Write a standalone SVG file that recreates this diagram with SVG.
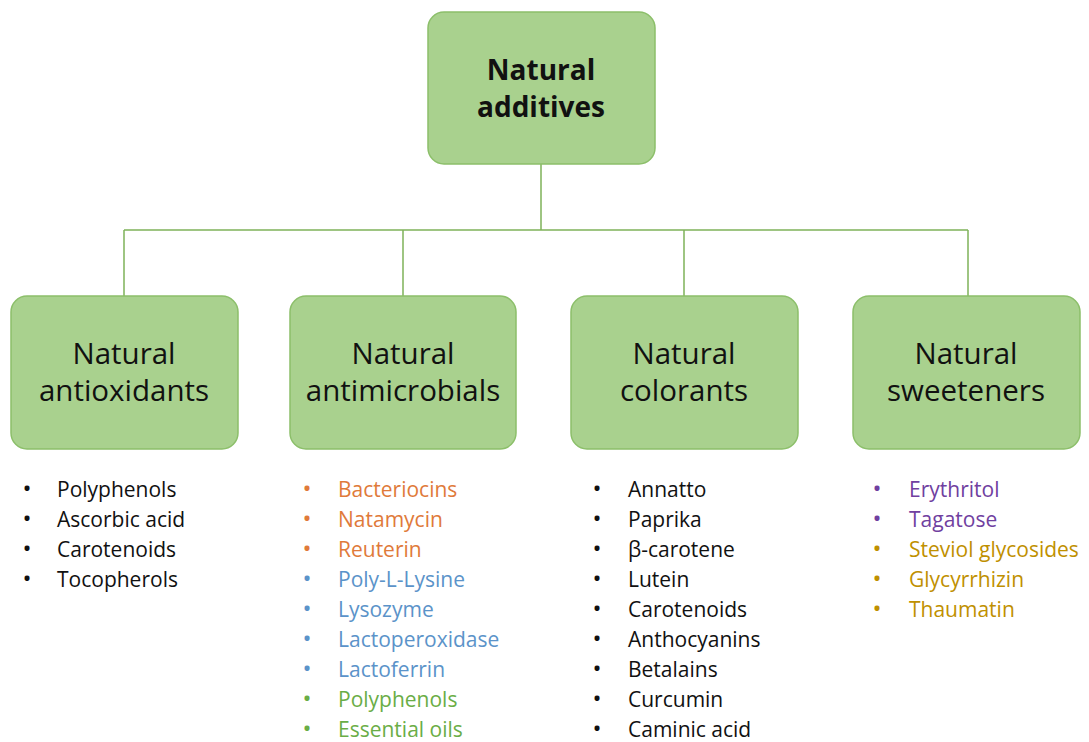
<svg xmlns="http://www.w3.org/2000/svg" width="1089" height="742" viewBox="0 0 1089 742">
<style>
.box{fill:#a9d18e;stroke:#8cbf6a;stroke-width:1.5}
.lnk{stroke:#7fb35a;stroke-width:1.5;fill:none}
.t{font-family:"Open Sans","Liberation Sans",sans-serif;fill:#111}
.h{font-size:29.5px;text-anchor:middle}
.hb{font-size:28px;text-anchor:middle;font-weight:bold}
.li{font-size:21px}
.bu{font-size:24px;text-anchor:middle}
.k{fill:#111}.o{fill:#e07a3a}.b{fill:#5b93c9}.g{fill:#6aad46}.p{fill:#7040a0}.y{fill:#bf9000}
</style>
<rect width="1089" height="742" fill="#fff"/>
<g id="connectors">
<path class="lnk" d="M541 164V230M124 230H968M124 230V296M403 230V296M684 230V296M968 230V296"/>
</g>
<g id="n-root"><rect class="box" x="428" y="12" width="227" height="152" rx="16"/>
<text class="t hb" x="541" y="80">Natural</text><text class="t hb" x="541" y="117">additives</text></g>
<g id="n-antiox"><rect class="box" x="11" y="296" width="227" height="153" rx="16"/>
<text class="t h" x="124" y="364">Natural</text><text class="t h" x="124" y="401">antioxidants</text></g>
<g id="n-antimic"><rect class="box" x="290" y="296" width="226" height="153" rx="16"/>
<text class="t h" x="403" y="364">Natural</text><text class="t h" x="403" y="401">antimicrobials</text></g>
<g id="n-color"><rect class="box" x="571" y="296" width="227" height="153" rx="16"/>
<text class="t h" x="684" y="364">Natural</text><text class="t h" x="684" y="401">colorants</text></g>
<g id="n-sweet"><rect class="box" x="853" y="296" width="227" height="153" rx="16"/>
<text class="t h" x="966" y="364">Natural</text><text class="t h" x="966" y="401">sweeteners</text></g>
<g id="list-antiox" class="t li">
<text class="k bu" x="27" y="497">•</text><text class="k" x="57" y="497">Polyphenols</text>
<text class="k bu" x="27" y="527">•</text><text class="k" x="57" y="527">Ascorbic acid</text>
<text class="k bu" x="27" y="557">•</text><text class="k" x="57" y="557">Carotenoids</text>
<text class="k bu" x="27" y="587">•</text><text class="k" x="57" y="587">Tocopherols</text>
</g>
<g id="list-antimic" class="t li">
<text class="o bu" x="307" y="497">•</text><text class="o" x="338" y="497">Bacteriocins</text>
<text class="o bu" x="307" y="527">•</text><text class="o" x="338" y="527">Natamycin</text>
<text class="o bu" x="307" y="557">•</text><text class="o" x="338" y="557">Reuterin</text>
<text class="b bu" x="307" y="587">•</text><text class="b" x="338" y="587">Poly-L-Lysine</text>
<text class="b bu" x="307" y="617">•</text><text class="b" x="338" y="617">Lysozyme</text>
<text class="b bu" x="307" y="647">•</text><text class="b" x="338" y="647">Lactoperoxidase</text>
<text class="b bu" x="307" y="677">•</text><text class="b" x="338" y="677">Lactoferrin</text>
<text class="g bu" x="307" y="707">•</text><text class="g" x="338" y="707">Polyphenols</text>
<text class="g bu" x="307" y="737">•</text><text class="g" x="338" y="737">Essential oils</text>
</g>
<g id="list-color" class="t li">
<text class="k bu" x="597" y="497">•</text><text class="k" x="628" y="497">Annatto</text>
<text class="k bu" x="597" y="527">•</text><text class="k" x="628" y="527">Paprika</text>
<text class="k bu" x="597" y="557">•</text><text class="k" x="628" y="557">β-carotene</text>
<text class="k bu" x="597" y="587">•</text><text class="k" x="628" y="587">Lutein</text>
<text class="k bu" x="597" y="617">•</text><text class="k" x="628" y="617">Carotenoids</text>
<text class="k bu" x="597" y="647">•</text><text class="k" x="628" y="647">Anthocyanins</text>
<text class="k bu" x="597" y="677">•</text><text class="k" x="628" y="677">Betalains</text>
<text class="k bu" x="597" y="707">•</text><text class="k" x="628" y="707">Curcumin</text>
<text class="k bu" x="597" y="737">•</text><text class="k" x="628" y="737">Caminic acid</text>
</g>
<g id="list-sweet" class="t li">
<text class="p bu" x="877" y="497">•</text><text class="p" x="909" y="497">Erythritol</text>
<text class="p bu" x="877" y="527">•</text><text class="p" x="909" y="527">Tagatose</text>
<text class="y bu" x="877" y="557">•</text><text class="y" x="909" y="557">Steviol glycosides</text>
<text class="y bu" x="877" y="587">•</text><text class="y" x="909" y="587">Glycyrrhizin</text>
<text class="y bu" x="877" y="617">•</text><text class="y" x="909" y="617">Thaumatin</text>
</g>
</svg>
